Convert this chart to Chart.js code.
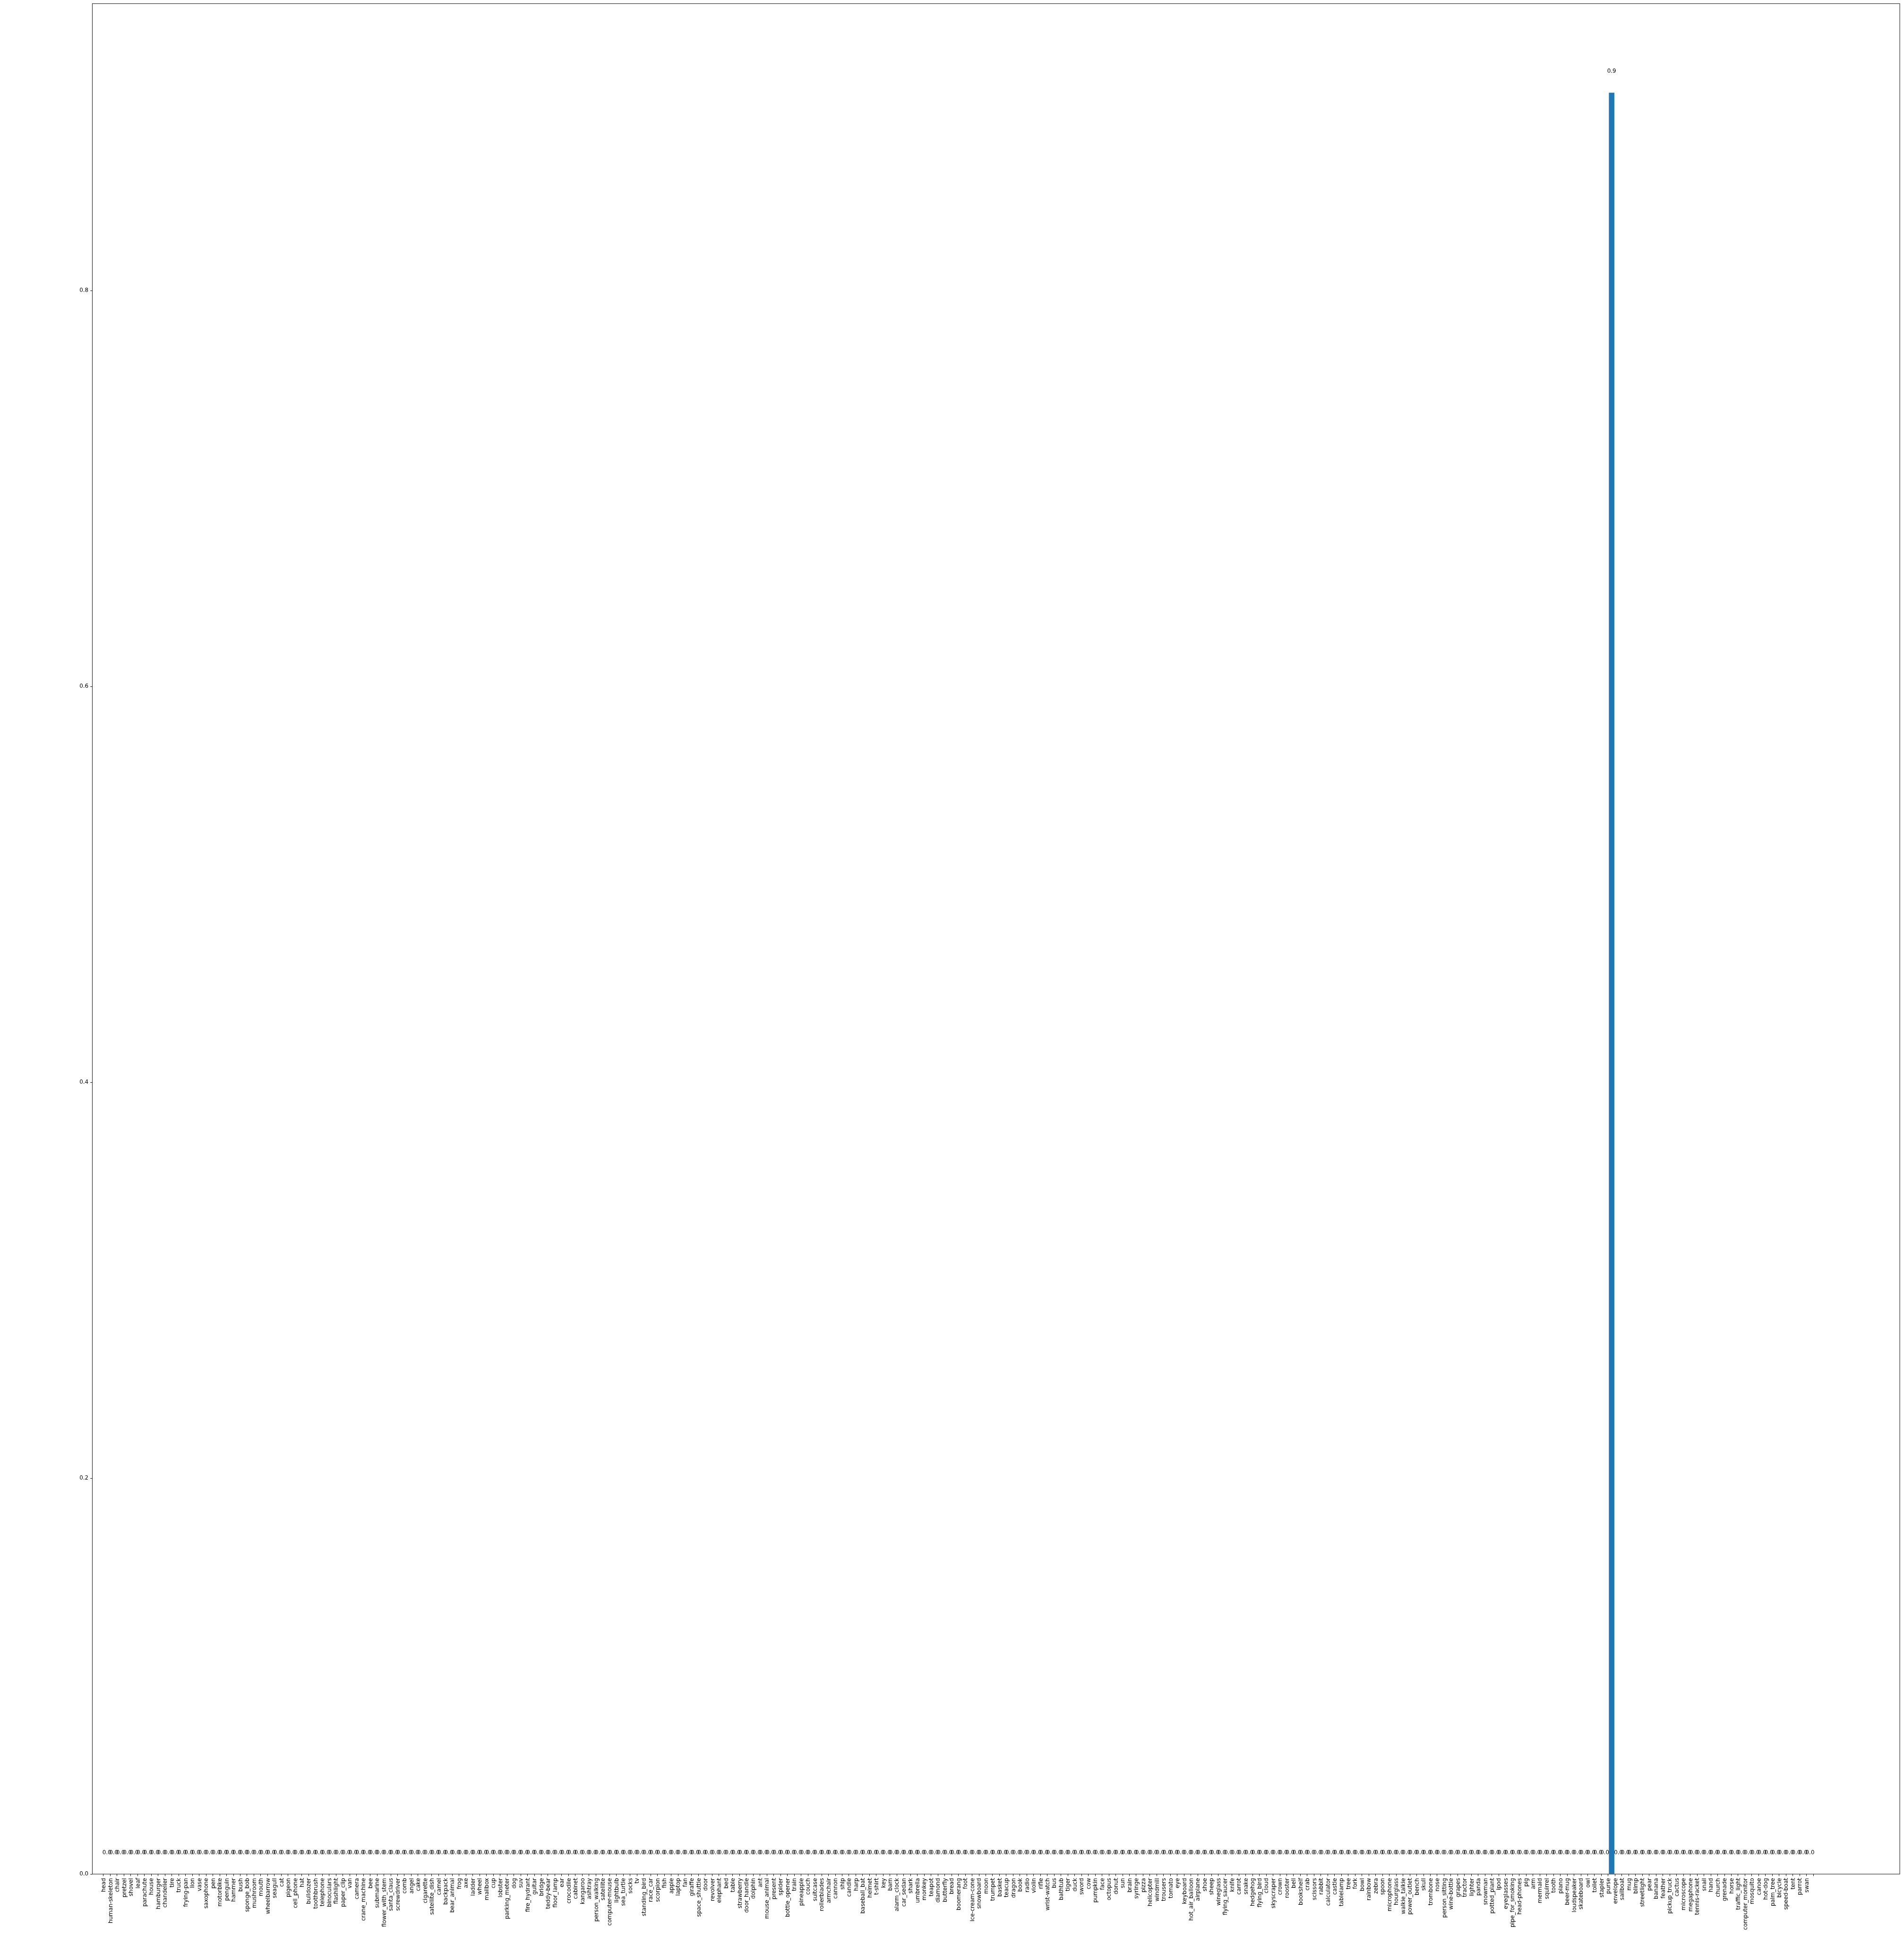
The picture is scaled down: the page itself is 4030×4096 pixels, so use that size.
<!DOCTYPE html>
<html>
<head>
<meta charset="utf-8">
<script src="https://cdn.jsdelivr.net/npm/chart.js@4.4.1/dist/chart.umd.min.js"></script>
<style>
html,body{margin:0;padding:0;background:#fff;}
canvas{display:block;}
</style>
</head>
<body>
<canvas id="c" width="4030" height="4096" style="width:4030px;height:4096px"></canvas>
<script>
const categories = [
"head","human-skeleton","chair","pretzel","shovel","leaf","parachute","house","hamburger","chandelier",
"tire","truck","frying-pan","lion","vase","saxophone","pen","motorbike","penguin","hammer",
"bush","sponge_bob","mushroom","mouth","wheelbarrow","seagull","cat","pigeon","cell_phone","hat",
"bulldozer","toothbrush","telephone","binoculars","flashlight","paper_clip","van","camera","crane_machine","bee",
"submarine","flower_with_stem","santa_claus","screwdriver","comb","angel","cake","cigarette","satellite_dish","camel",
"backpack","bear_animal","frog","axe","ladder","wheel","mailbox","cup","lobster","parking_meter",
"dog","suv","fire_hydrant","guitar","bridge","teddy-bear","floor_lamp","ear","crocodile","cabinet",
"kangaroo","ashtray","person_walking","satellite","computer-mouse","lightbulb","sea_turtle","socks","tv","standing_bird",
"race_car","scorpion","fish","apple","laptop","fan","giraffe","space_shuttle","door","revolver",
"elephant","bed","table","strawberry","door_handle","dolphin","ant","mouse_animal","present","spider",
"bottle_opener","train","pineapple","couch","suitcase","rollerblades","armchair","cannon","ship","candle",
"harp","baseball_bat","helmet","t-shirt","key","barn","alarm_clock","car_sedan","shark","umbrella",
"monkey","teapot","diamond","butterfly","bread","boomerang","foot","ice-cream-cone","snowboard","moon",
"trumpet","basket","teacup","dragon","book","radio","violin","rifle","wrist-watch","bus",
"bathtub","tiger","duck","sword","cow","pumpkin","face","octopus","donut","sun",
"brain","syringe","pizza","helicopter","windmill","trousers","tomato","eye","keyboard","hot_air_balloon",
"airplane","shoe","sheep","wineglass","flying_saucer","knife","carrot","snake","hedgehog","flying_bird",
"cloud","skyscraper","crown","rooster","bell","bookshelf","crab","scissors","rabbit","calculator",
"castle","tablelamp","tree","fork","bowl","rainbow","zebra","spoon","microphone","hourglass",
"walkie_talkie","power_outlet","bench","skull","trombone","nose","person_sitting","wine-bottle","grapes","tractor",
"lighter","panda","snowman","potted_plant","ipod","eyeglasses","pipe_for_smoking","head-phones","pig","arm",
"mermaid","squirrel","tooth","piano","beer-mug","loudspeaker","skateboard","owl","toilet","stapler",
"purse","envelope","sailboat","mug","blimp","streetlight","pear","banana","feather","pickup_truck",
"cactus","microscope","megaphone","tennis-racket","snail","hand","church","grenade","horse","traffic_light",
"computer_monitor","mosquito","canoe","hot-dog","palm_tree","bicycle","speed-boat","tent","parrot","swan"
];

const values = [
0,0,0,0,0,0,0,0,0,0,
0,0,0,0,0,0,0,0,0,0,
0,0,0,0,0,0,0,0,0,0,
0,0,0,0,0,0,0,0,0,0,
0,0,0,0,0,0,0,0,0,0,
0,0,0,0,0,0,0,0,0,0,
0,0,0,0,0,0,0,0,0,0,
0,0,0,0,0,0,0,0,0,0,
0,0,0,0,0,0,0,0,0,0,
0,0,0,0,0,0,0,0,0,0,
0,0,0,0,0,0,0,0,0,0,
0,0,0,0,0,0,0,0,0,0,
0,0,0,0,0,0,0,0,0,0,
0,0,0,0,0,0,0,0,0,0,
0,0,0,0,0,0,0,0,0,0,
0,0,0,0,0,0,0,0,0,0,
0,0,0,0,0,0,0,0,0,0,
0,0,0,0,0,0,0,0,0,0,
0,0,0,0,0,0,0,0,0,0,
0,0,0,0,0,0,0,0,0,0,
0,0,0,0,0,0,0,0,0,0,
0,0,0,0,0,0,0,0,0,0,
0.9,0,0,0,0,0,0,0,0,0,
0,0,0,0,0,0,0,0,0,0,
0,0,0,0,0,0,0,0,0,0
];

const yTicks = [0, 0.2, 0.4, 0.6, 0.8];

const S = 0.857;
const FONT = 'DejaVu Sans';
const FS = 13.9 * S;
const TICKLEN = 4.86 * S;
const PAD = 4.86 * S;
const LW = 1.11 * S;

const CHART_LEFT = 228 * S;
const CHART_BOTTOM_H = 4096 - 4629 * S;

const framePlugin = {
  id: 'frame',
  afterDatasetsDraw(chart) {
    const {ctx, chartArea: a, scales} = chart;
    ctx.save();
    ctx.font = FS + 'px "' + FONT + '"';
    ctx.fillStyle = '#000';
    ctx.textAlign = 'center';
    ctx.textBaseline = 'alphabetic';
    values.forEach((v, i) => {
      const x = scales.x.getPixelForValue(i);
      const y = scales.y.getPixelForValue(v + 0.01);
      ctx.fillText(v.toFixed(1), x, y);
    });
    ctx.strokeStyle = '#000';
    ctx.lineWidth = LW;
    ctx.strokeRect(a.left, a.top, a.right - a.left, a.bottom - a.top);
    ctx.restore();
  }
};

new Chart(document.getElementById('c'), {
  type: 'bar',
  data: {
    datasets: [{
      data: values.map((v, i) => ({x: i, y: v})),
      backgroundColor: '#1f77b4',
      borderWidth: 0,
      barPercentage: 0.8,
      categoryPercentage: 1.0
    }]
  },
  options: {
    responsive: false,
    devicePixelRatio: 1,
    animation: false,
    events: [],
    layout: {padding: {left: 0, right: 4030 - 4692 * S, top: 9 * S, bottom: 0}},
    plugins: {legend: {display: false}, tooltip: {enabled: false}},
    scales: {
      x: {
        type: 'linear',
        min: -1.6,
        max: 261.6,
        grid: {drawOnChartArea: false, drawTicks: true, tickLength: TICKLEN, color: '#000', lineWidth: LW},
        border: {display: false},
        afterBuildTicks(scale) {
          scale.ticks = categories.map((_, i) => ({value: i}));
        },
        afterFit(scale) {
          scale.height = CHART_BOTTOM_H;
          scale.paddingLeft = 0; scale.paddingRight = 0;
        },
        ticks: {
          autoSkip: false,
          minRotation: 90,
          maxRotation: 90,
          padding: PAD,
          labelOffset: -FS * 1.2 / 2 + 1,
          color: '#000',
          font: {family: FONT, size: FS},
          callback: (v) => categories[v] !== undefined ? categories[v] : ''
        }
      },
      y: {
        type: 'linear',
        min: 0,
        max: 0.945,
        grid: {drawOnChartArea: false, drawTicks: true, tickLength: TICKLEN, color: '#000', lineWidth: LW},
        border: {display: false},
        afterBuildTicks(scale) {
          scale.ticks = yTicks.map(v => ({value: v}));
        },
        afterFit(scale) {
          scale.width = CHART_LEFT;
          scale.paddingTop = 0; scale.paddingBottom = 0;
        },
        ticks: {
          padding: PAD,
          color: '#000',
          font: {family: FONT, size: FS},
          callback: (v) => Number(v).toFixed(1)
        }
      }
    }
  },
  plugins: [framePlugin]
});
</script>
</body>
</html>
